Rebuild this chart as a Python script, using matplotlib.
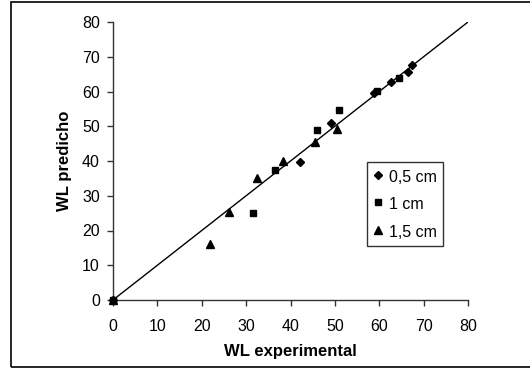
import numpy as np
import matplotlib.pyplot as plt
from matplotlib.patches import Rectangle

plt.rcParams['font.family'] = ['Liberation Sans', 'DejaVu Sans']

# 0,5 cm
x05 = [0, 42.1, 49.1, 58.8, 62.7, 66.5, 67.4]
y05 = [0, 39.8, 50.8, 59.5, 62.8, 65.7, 67.6]
# 1 cm
x1 = [0, 31.6, 36.5, 46.0, 50.9, 59.5, 64.4]
y1 = [0, 25.1, 37.4, 48.9, 54.7, 60.2, 64.0]
# 1,5 cm
x15 = [0, 21.8, 26.2, 32.5, 38.4, 45.5, 50.4]
y15 = [0, 16.1, 25.4, 35.0, 40.1, 45.6, 49.1]

ideal = [0, 80]

fig = plt.figure(figsize=(5.3, 3.69), dpi=100)
ax = fig.add_axes([113 / 530, 1 - 300 / 369, 355 / 530, 278 / 369])

ax.plot(ideal, ideal, color='black', linewidth=1, zorder=1)
ax.plot(x05, y05, linestyle='none', marker='D', markersize=4.2, color='black',
        label='0,5 cm', zorder=3, clip_on=False)
ax.plot(x1, y1, linestyle='none', marker='s', markersize=5, color='black',
        label='1 cm', zorder=3, clip_on=False)
ax.plot(x15, y15, linestyle='none', marker='^', markersize=6, color='black',
        label='1,5 cm', zorder=3, clip_on=False)

ax.set_xlim(0, 80)
ax.set_ylim(0, 80)
ax.set_xticks(np.arange(0, 81, 10))
ax.set_yticks(np.arange(0, 81, 10))
ax.spines['top'].set_visible(False)
ax.spines['right'].set_visible(False)
for s in ['left', 'bottom']:
    ax.spines[s].set_color('#333333')
    ax.spines[s].set_linewidth(1)
ax.tick_params(direction='out', length=4, width=1, color='#333333', labelsize=11.5)
ax.tick_params(axis='x', pad=10)
ax.tick_params(axis='y', pad=5.5)
ax.set_xlabel('WL experimental', fontsize=12, fontweight='bold', labelpad=7)
ax.set_ylabel('WL predicho', fontsize=12, fontweight='bold', labelpad=7)

leg = ax.legend(loc='upper left', bbox_to_anchor=((366.7 - 113) / 355, 1 - (161.7 - 22) / 278),
                frameon=True, fancybox=False, fontsize=11.5, handlelength=0.7, handletextpad=0.3,
                handleheight=1.25, borderpad=0.38, labelspacing=0.68, borderaxespad=0)
leg.get_frame().set_edgecolor('black')
leg.get_frame().set_linewidth(1)

fig.patches.append(Rectangle((11 / 530, 2 / 369), 1.2, 365.5 / 369, transform=fig.transFigure,
                             fill=False, edgecolor='black', linewidth=1.2))

fig.savefig('out.png', dpi=100)
